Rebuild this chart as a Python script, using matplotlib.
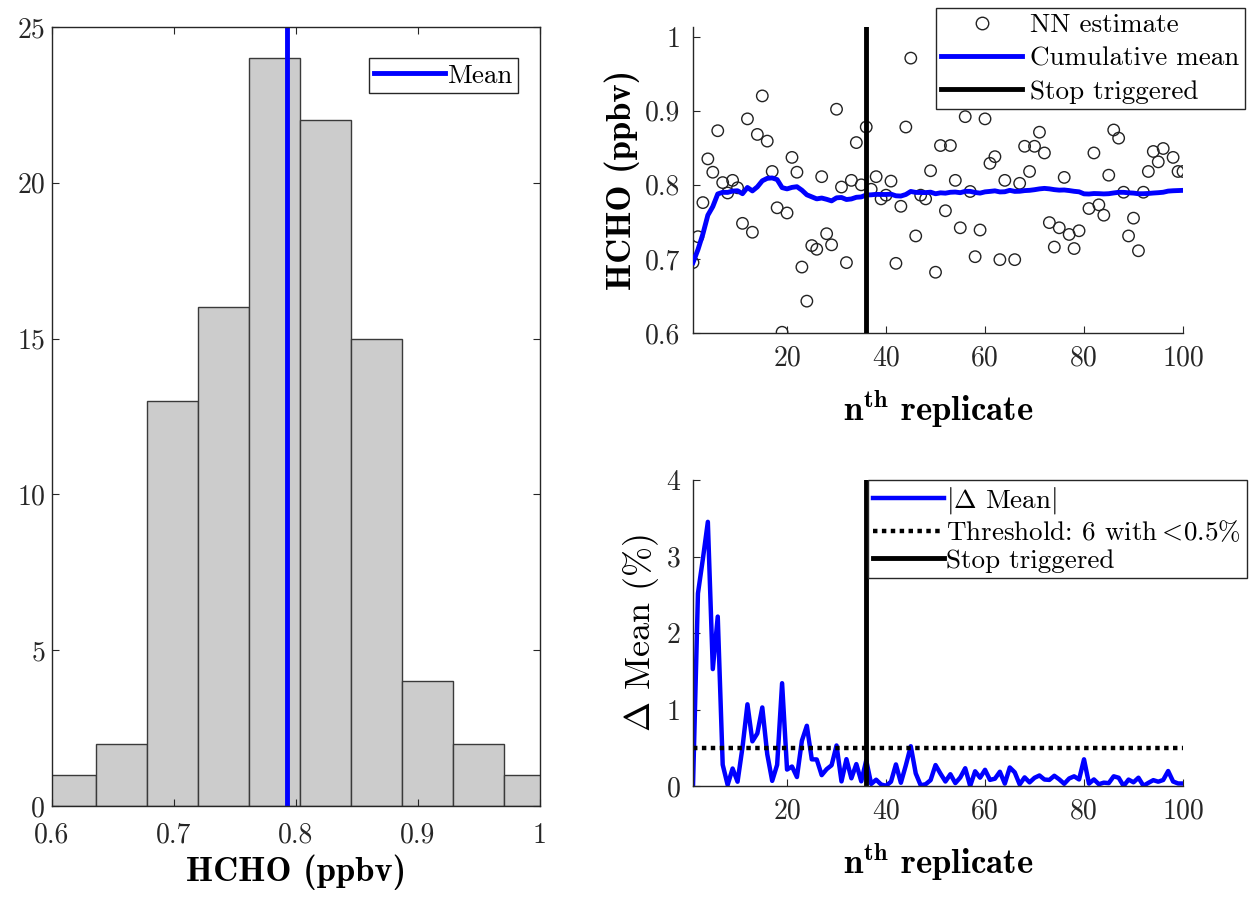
import numpy as np
import matplotlib
matplotlib.use('Agg')
import matplotlib.pyplot as plt
from matplotlib.lines import Line2D
from matplotlib.ticker import FuncFormatter

plt.rcParams['font.family'] = 'cmr10'
plt.rcParams['mathtext.fontset'] = 'cm'
plt.rcParams['axes.formatter.use_mathtext'] = True

# NN estimates per replicate (ppbv)
nn_estimate = [0.695, 0.730, 0.776, 0.835, 0.817, 0.873, 0.803, 0.789, 0.806, 0.796,
               0.748, 0.889, 0.736, 0.868, 0.920, 0.859, 0.818, 0.769, 0.601, 0.762,
               0.837, 0.817, 0.689, 0.643, 0.718, 0.713, 0.811, 0.734, 0.719, 0.902,
               0.797, 0.695, 0.806, 0.857, 0.800, 0.878, 0.794, 0.811, 0.781, 0.786,
               0.805, 0.694, 0.771, 0.878, 0.971, 0.731, 0.786, 0.781, 0.819, 0.682,
               0.853, 0.765, 0.853, 0.806, 0.742, 0.892, 0.791, 0.703, 0.739, 0.889,
               0.829, 0.838, 0.699, 0.806, 0.915, 0.699, 0.802, 0.852, 0.818, 0.852,
               0.871, 0.843, 0.749, 0.716, 0.742, 0.810, 0.733, 0.714, 0.738, 0.570,
               0.768, 0.843, 0.773, 0.759, 0.813, 0.874, 0.863, 0.790, 0.731, 0.755,
               0.711, 0.790, 0.818, 0.845, 0.831, 0.849, 0.940, 0.837, 0.818, 0.818]
replicate = np.arange(1, len(nn_estimate) + 1)

# histogram bins
bin_edges = [0.5943, 0.6361, 0.6778, 0.7197, 0.7617, 0.8034, 0.8450, 0.8867, 0.9287, 0.9704, 1.0122]
bin_counts = [1, 2, 13, 16, 24, 22, 15, 4, 2, 1]

stop_at = 36
threshold = 0.5

cum_mean = np.cumsum(nn_estimate) / replicate
delta_mean = np.r_[0, np.abs(np.diff(cum_mean)) / cum_mean[:-1] * 100]

W, H = 1257, 897
fig = plt.figure(figsize=(W / 100, H / 100), dpi=100)

def px_axes(x0, x1, ytop, ybot):
    return fig.add_axes([x0 / W, 1 - ybot / H, (x1 - x0) / W, (ybot - ytop) / H])

gfmt = FuncFormatter(lambda v, p: '%g' % v)
spine_c = '#262626'
lab_font = dict(fontfamily='cmb10', fontsize=25)
leg_kw = dict(fontsize=19.5, handlelength=2.6, fancybox=False,
              edgecolor=spine_c, borderpad=0.2, framealpha=1, borderaxespad=0)

def style(ax, box, xpad, ypad):
    for s in ax.spines.values():
        s.set_color(spine_c)
        s.set_linewidth(1.0)
    if not box:
        ax.spines['top'].set_visible(False)
        ax.spines['right'].set_visible(False)
    ax.tick_params(direction='in', length=5, width=0.8, labelsize=20,
                   colors=spine_c, top=box, right=box)
    ax.tick_params(axis='x', pad=xpad)
    ax.tick_params(axis='y', pad=ypad)
    ax.xaxis.set_major_formatter(gfmt)
    ax.yaxis.set_major_formatter(gfmt)

# ---- histogram ----
ax_h = px_axes(52, 540, 27, 806)
widths = np.diff(bin_edges)
ax_h.bar(bin_edges[:-1], bin_counts, width=widths, align='edge',
         color=(0.8, 0.8, 0.8), edgecolor='#3a3a3a', linewidth=1.0)
ax_h.axvline(cum_mean[-1], color='b', lw=3.5, label='Mean')
ax_h.set_xlim(0.6, 1.0)
ax_h.set_ylim(0, 25)
ax_h.set_xticks([0.6, 0.7, 0.8, 0.9, 1.0])
ax_h.set_yticks([0, 5, 10, 15, 20, 25])
style(ax_h, True, 12, 5)
ax_h.set_xlabel('HCHO (ppbv)', labelpad=4, **lab_font)
ax_h.legend(loc='upper right', bbox_to_anchor=(0.955, 0.96),
            handletextpad=0.1, labelspacing=0.12, **leg_kw)

# ---- replicates ----
ax_r = px_axes(693, 1183, 27, 333)
ax_r.scatter(replicate, nn_estimate, s=68, facecolors='none', edgecolors='#222222',
             linewidths=1.0, label='NN estimate', zorder=2)
ax_r.plot(replicate, cum_mean, color='b', lw=3.5, label='Cumulative mean', zorder=3)
ax_r.axvline(stop_at, color='k', lw=3.5, label='Stop triggered', zorder=4)
ax_r.set_xlim(1, 100)
ax_r.set_ylim(0.6, 1.013)
ax_r.set_xticks([20, 40, 60, 80, 100])
ax_r.set_yticks([0.6, 0.7, 0.8, 0.9, 1.0])
style(ax_r, False, 9, 9)
ax_r.set_xlabel(r'$\mathbf{n^{th}}$ replicate', labelpad=12, **lab_font)
ax_r.set_ylabel('HCHO (ppbv)', labelpad=4, **lab_font)
handles = [Line2D([], [], ls='none', marker='o', mfc='none', mec='#222222', ms=9),
           Line2D([], [], color='b', lw=3.5),
           Line2D([], [], color='k', lw=3.5)]
leg = ax_r.legend(handles, ['NN estimate', 'Cumulative mean', 'Stop triggered'],
                  loc='upper right', bbox_to_anchor=(1.1265, 1.062),
                  handlelength=3.0, handletextpad=0.3, labelspacing=0.34,
                  **{k: v for k, v in leg_kw.items() if k != 'handlelength'})
leg.set_zorder(10)

# ---- delta mean ----
ax_d = px_axes(693, 1183, 480, 786)
ax_d.plot(replicate, delta_mean, color='b', lw=3.2, label=r'$|\Delta$ Mean$|$')
ax_d.axhline(threshold, color='k', ls=(0, (1, 1)), lw=3.2,
             label=r'Threshold: 6 with$<\!$0.5%')
ax_d.axvline(stop_at, color='k', lw=3.5, label='Stop triggered')
ax_d.set_xlim(1, 100)
ax_d.set_ylim(0, 4)
ax_d.set_xticks([20, 40, 60, 80, 100])
ax_d.set_yticks([0, 1, 2, 3, 4])
style(ax_d, False, 9, 9)
ax_d.set_xlabel(r'$\mathbf{n^{th}}$ replicate', labelpad=12, **lab_font)
ax_d.set_ylabel(r'$\Delta$ Mean (%)', fontfamily='cmr10', fontsize=26, labelpad=4)
leg2 = ax_d.legend(loc='upper left', bbox_to_anchor=(0.357, 1.0),
                   handletextpad=0.1, labelspacing=0.12, **leg_kw)
leg2.set_zorder(10)

fig.savefig('out.png', dpi=100)
